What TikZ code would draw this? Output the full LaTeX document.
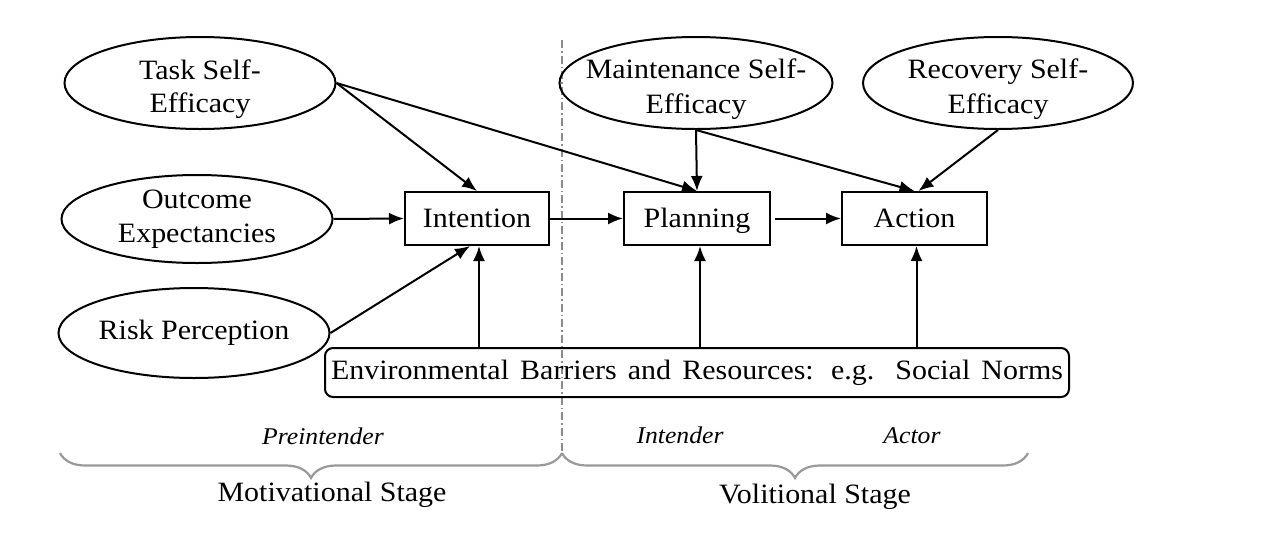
\documentclass[tikz,border=0pt]{standalone}
\usepackage{fontspec}
\setmainfont{Liberation Serif}[FakeStretch=1.07]
\usetikzlibrary{shapes.geometric, arrows.meta, positioning, decorations.pathreplacing}

\begin{document}
\begin{tikzpicture}[
  x=1pt, y=1pt,
  node distance=0pt,
  belief/.style={ellipse, draw=black, line width=2pt, minimum width=271pt, minimum height=92pt, inner xsep=-50pt, inner ysep=0pt, font=\fontsize{28}{34}\selectfont, align=center},
  toptext/.style={font=\fontsize{28}{33}\selectfont, align=center, yshift=-6pt},
  stagebox/.style={rectangle, draw=black, line width=2pt, minimum width=145pt, minimum height=53pt, inner sep=0pt, text height=24pt, text depth=6pt, font=\fontsize{28}{34}\selectfont},
  envbox/.style={rectangle, rounded corners=8pt, draw=black, line width=2pt, minimum width=744pt, minimum height=49pt, inner sep=0pt, font=\fontsize{28}{34}\selectfont},
  arr/.style={-{Latex[length=15pt,width=12pt]}, line width=2pt},
  grp/.style={font=\fontsize{24}{28}\selectfont\itshape},
  stage/.style={font=\fontsize{28}{34}\selectfont},
  bracket/.style={decorate, decoration={brace, amplitude=25pt}, draw=gray!80, line width=2.2pt}
]
\useasboundingbox (0,0) rectangle (1267,-536);

% Divider between the two stages
\draw[dash pattern=on 8pt off 3pt on 1.5pt off 3pt, gray!90, line width=1.3pt] (562,-40) coordinate (divtop) -- (562,-455) coordinate (divbot);

% Self-efficacy and other beliefs
\node[belief, label={[toptext]center:{Task Self-\\Efficacy}}] (task) at (200,-83) {};
\node[belief, minimum height=88pt] (outcome) at (197,-219) {Outcome\\Expectancies};
\node[belief, minimum height=90pt] (risk) at (194,-333) {Risk Perception};
\node[belief, minimum width=273pt, label={[toptext, font=\fontsize{28}{35}\selectfont]center:{Maintenance Self-\\Efficacy}}] (maint) at (696,-83) {};
\node[belief, minimum width=270pt, label={[toptext, font=\fontsize{28}{35}\selectfont]center:{Recovery Self-\\Efficacy}}] (recov) at (998,-83) {};

% Intention -> Planning -> Action
\node[stagebox, minimum width=144pt] (intent) at (477,-218.5) {Intention};
\node[stagebox, minimum width=146pt, right=73pt of intent] (plan) {Planning};
\node[stagebox, right=70pt of plan] (act) {Action};

% Barriers and resources
\node[envbox] (env) at (697,-372.5) {\makebox[732pt][s]{Environmental Barriers and Resources: e.g. Social Norms}};

% Arrows
\draw[arr] (task.east) -- (intent.north);
\draw[arr] (task.east) -- (plan.north);
\draw[arr] (outcome.east) -- (intent.west);
\draw[arr] (risk.east) -- ([xshift=-7pt]intent.south);
\draw[arr] (intent.east) -- (plan.west);
\draw[arr, shorten <=4pt] (plan.east) -- (act.west);
\draw[arr] (maint.south) -- (plan.north);
\draw[arr] (maint.south) -- (act.north);
\draw[arr] (recov.south) -- ([xshift=4pt]act.north);
\draw[arr] ([xshift=2pt]intent.south |- env.north) -- ([xshift=2pt]intent.south);
\draw[arr] ([xshift=3pt]plan.south |- env.north) -- ([xshift=3pt]plan.south);
\draw[arr] ([xshift=2pt]act.south |- env.north) -- ([xshift=2pt]act.south);

% Stage labels
\node[grp] (pre) at (323,-436) {Preintender};
\node[grp] (inten) at (680,-435) {Intender};
\node[grp] (actor) at (912,-436) {Actor};

\coordinate (lbeg) at (60,-453);
\coordinate (mid) at (562,-453);
\coordinate (rend) at (1028,-453);
\draw[bracket] (mid) -- (lbeg);
\draw[bracket] (rend) -- (mid);

\node[stage] (motiv) at (332,-495) {Motivational Stage};
\node[stage] (volit) at (815,-497) {Volitional Stage};

\end{tikzpicture}
\end{document}
